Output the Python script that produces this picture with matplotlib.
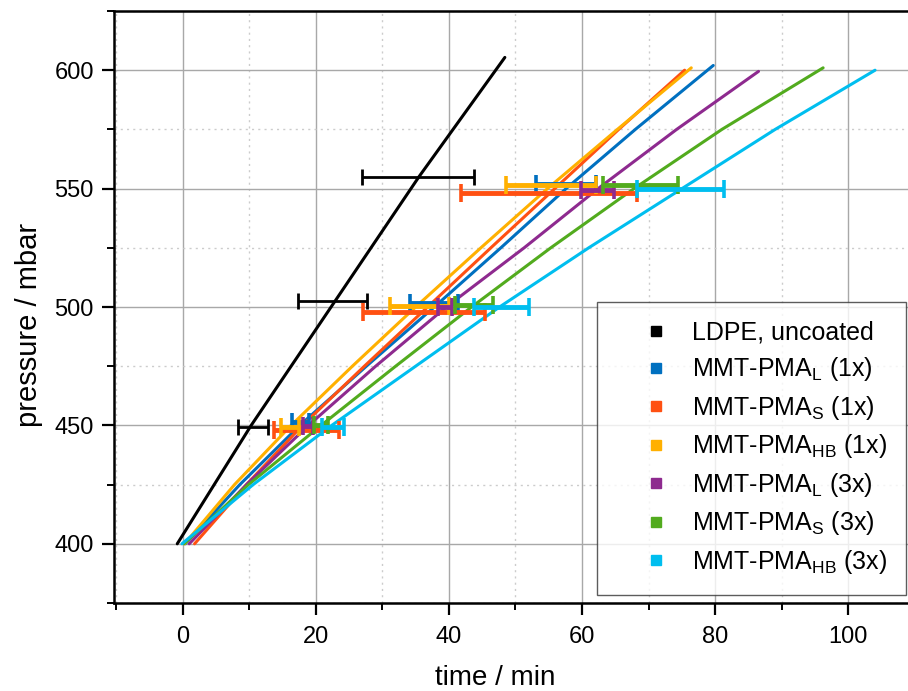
import numpy as np
import matplotlib
matplotlib.use("Agg")
import matplotlib.pyplot as plt
from matplotlib.ticker import MultipleLocator

plt.rcParams["font.family"] = ["Liberation Sans", "DejaVu Sans"]
plt.rcParams["mathtext.fontset"] = "custom"
plt.rcParams["mathtext.rm"] = "Liberation Sans"

# series labels and colours
labels = [
    "LDPE, uncoated",
    "MMT-PMA$_\\mathrm{L}$ (1x)",
    "MMT-PMA$_\\mathrm{S}$ (1x)",
    "MMT-PMA$_\\mathrm{HB}$ (1x)",
    "MMT-PMA$_\\mathrm{L}$ (3x)",
    "MMT-PMA$_\\mathrm{S}$ (3x)",
    "MMT-PMA$_\\mathrm{HB}$ (3x)",
]
colors = ["#000000", "#0070C0", "#FF5012", "#FFB000", "#8E2A8F", "#52AB1E", "#00BEEF"]

# curves: time (min) vs pressure (mbar)
ldpe_t = [-0.8, 10.3, 22.3, 35.5, 48.4]
ldpe_p = [400, 450, 500, 555, 605.4]

pma_l1_t = [0.4, 8.6, 17.6, 27.6, 37.8, 47.8, 57.6, 68.0, 79.7]
pma_l1_p = [400, 425, 450, 475, 500, 525, 550, 575, 602]

pma_s1_t = [1.8, 9.6, 18.0, 27.3, 36.8, 46.3, 55.9, 65.5, 75.4]
pma_s1_p = [400, 425, 450, 475, 500, 525, 550, 575, 600]

pma_hb1_t = [0.3, 7.8, 16.3, 25.5, 35.0, 44.8, 54.8, 65.3, 76.4]
pma_hb1_p = [400, 425, 450, 475, 500, 525, 550, 575, 601]

pma_l3_t = [1.0, 9.6, 18.9, 29.0, 39.6, 51.3, 62.4, 74.2, 86.5]
pma_l3_p = [400, 425, 450, 475, 500, 525, 550, 575, 599.5]

pma_s3_t = [0.2, 9.9, 20.8, 32.0, 43.4, 55.3, 67.8, 81.0, 96.2]
pma_s3_p = [400, 425, 450, 475, 500, 525, 550, 575, 601]

pma_hb3_t = [-0.1, 10.6, 22.4, 35.0, 47.6, 61.0, 75.0, 89.0, 104.0]
pma_hb3_p = [400, 425, 450, 475, 500, 525, 550, 575, 600]

curves = [
    (ldpe_t, ldpe_p), (pma_l1_t, pma_l1_p), (pma_s1_t, pma_s1_p), (pma_hb1_t, pma_hb1_p),
    (pma_l3_t, pma_l3_p), (pma_s3_t, pma_s3_p), (pma_hb3_t, pma_hb3_p),
]

# horizontal error bars at 450 / 500 / 550 mbar: left and right ends, height
err_lo = [
    [8.3, 17.4, 27.0],
    [16.5, 34.2, 53.1],
    [13.8, 27.1, 41.8],
    [14.8, 31.1, 48.6],
    [18.1, 38.3, 59.8],
    [19.8, 40.9, 63.1],
    [21.0, 43.7, 68.3],
]
err_hi = [
    [12.8, 27.7, 43.7],
    [19.0, 41.3, 62.1],
    [23.5, 45.4, 68.2],
    [17.5, 40.0, 62.1],
    [19.6, 40.4, 64.8],
    [21.8, 46.6, 74.4],
    [24.3, 52.1, 81.3],
]
err_p = [
    [449.4, 502.7, 555.1],
    [451.5, 501.5, 552.0],
    [448.0, 498.0, 548.1],
    [449.5, 500.5, 551.6],
    [449.8, 500.0, 549.5],
    [450.0, 500.7, 551.6],
    [449.5, 500.2, 549.8],
]

fig = plt.figure(figsize=(9.08, 6.91), dpi=100)
ax = fig.add_axes([114 / 908, (691 - 603) / 691, (915 - 114) / 908, (603 - 11) / 691])

for (t, p), c in zip(curves, colors):
    ax.plot(t, p, color=c, lw=2.2, zorder=3, solid_capstyle="round", solid_joinstyle="round")

for i, c in enumerate(colors):
    lo = np.array(err_lo[i])
    hi = np.array(err_hi[i])
    mid = (lo + hi) / 2
    if i == 0:
        ax.errorbar(mid, err_p[i], xerr=(hi - lo) / 2, fmt="none", ecolor=c,
                    elinewidth=2.0, capsize=6, capthick=2.0, zorder=4)
    else:
        ax.errorbar(mid, err_p[i], xerr=(hi - lo) / 2, fmt="none", ecolor=c,
                    elinewidth=3.5, capsize=6.5, capthick=2.6, zorder=4)

# legend handles: square markers only
for lab, c in zip(labels, colors):
    ax.plot([], [], ls="none", marker="s", ms=7, color=c, label=lab)

ax.set_xlim(-10.3, 110)
ax.set_ylim(375, 625)
ax.xaxis.set_major_locator(MultipleLocator(20))
ax.xaxis.set_minor_locator(MultipleLocator(10))
ax.yaxis.set_major_locator(MultipleLocator(50))
ax.yaxis.set_minor_locator(MultipleLocator(25))

ax.grid(which="major", color="#A8A8A8", lw=1.0, ls="-", zorder=0)
ax.grid(which="minor", color="#CCCCCC", lw=1.0, ls=(0, (1.5, 3)), zorder=0)
ax.set_axisbelow(True)

for s in ax.spines.values():
    s.set_linewidth(1.8)
ax.tick_params(which="major", direction="out", length=8.5, width=1.6, labelsize=17, pad=6)
ax.tick_params(which="minor", direction="out", length=5, width=1.4)
ax.tick_params(axis="x", which="major", pad=8)

ax.set_xlabel("time / min", fontsize=20)
ax.set_ylabel("pressure / mbar", fontsize=21)
ax.xaxis.set_label_coords(0.5 + (495 - 514) / 801, -(665 - 603) / 592)
ax.yaxis.set_label_coords(-(114 - 43) / 801, (603 - 325) / 592)

handles, labs = ax.get_legend_handles_labels()
leg = fig.legend(handles[-7:], labs[-7:], loc="upper left",
                 bbox_to_anchor=(597 / 908, 1 - 302 / 691), borderaxespad=0,
                 fontsize=18, frameon=True, fancybox=False, edgecolor="#333333",
                 borderpad=0.75, handlelength=3.2, handletextpad=-0.15, labelspacing=0.42)
leg.get_frame().set_linewidth(1.0)

fig.savefig("out.png", dpi=100)
